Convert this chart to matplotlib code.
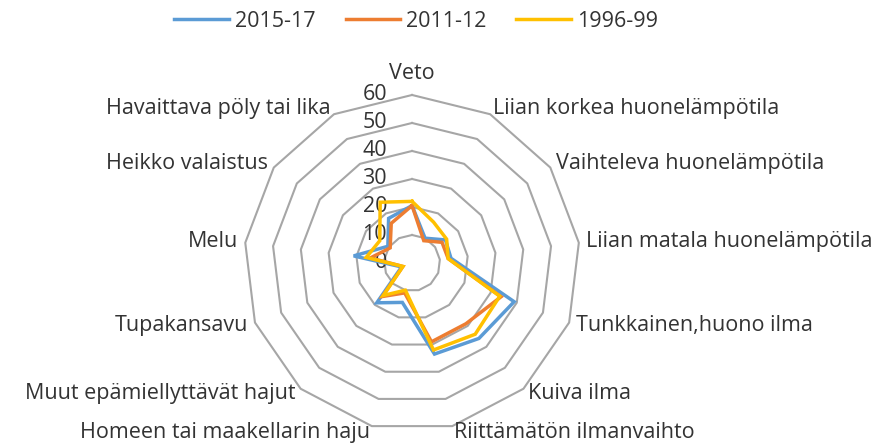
import numpy as np
import matplotlib
matplotlib.use("Agg")
import matplotlib.pyplot as plt

plt.rcParams["font.family"] = ["Open Sans", "DejaVu Sans"]

# categories clockwise from the top
categories = [
    "Veto",
    "Liian korkea huonelämpötila",
    "Vaihteleva huonelämpötila",
    "Liian matala huonelämpötila",
    "Tunkkainen,huono ilma",
    "Kuiva ilma",
    "Riittämätön ilmanvaihto",
    "Homeen tai maakellarin haju",
    "Muut epämiellyttävät hajut",
    "Tupakansavu",
    "Melu",
    "Heikko valaistus",
    "Havaittava pöly tai lika",
]
s2015_17 = [20.5, 10, 14.5, 14, 39, 36, 33.5, 14.5, 19, 4, 21, 10.5, 18]
s2011_12 = [20.5, 9, 13, 13, 34, 29, 29, 11, 16, 3.5, 15, 9.5, 16]
s1996_99 = [22, 16.5, 15, 13, 33.5, 34, 32, 10, 15.5, 3.5, 16.5, 14, 24.5]
series_names = ["2015-17", "2011-12", "1996-99"]
radial_ticks = [0, 10, 20, 30, 40, 50, 60]

colors = ["#5B9BD5", "#ED7D31", "#FFC000"]
grid_color = "#A6A6A6"
text_color = "#333333"
fs = 15.5

n = len(categories)
theta = np.arange(n) * 2 * np.pi / n
theta_closed = np.append(theta, theta[0])

fig = plt.figure(figsize=(8.89, 4.43), dpi=100)
ax = fig.add_axes([0.2745, 0.0271, 0.378, 0.7585], projection="polar")
ax.set_theta_zero_location("N")
ax.set_theta_direction(-1)
ax.set_ylim(0, 60)
ax.grid(False)
ax.spines["polar"].set_visible(False)
ax.set_xticks([])
ax.set_yticks([])
ax.patch.set_visible(False)

# polygon grid
for r in radial_ticks[1:]:
    ax.plot(theta_closed, [r] * (n + 1), color=grid_color, lw=1.5, zorder=1,
            clip_on=False)

# data series
for vals, name, c in zip([s2015_17, s2011_12, s1996_99], series_names, colors):
    ax.plot(theta_closed, vals + vals[:1], color=c, lw=2.5, label=name,
            solid_joinstyle="miter", zorder=3)

# radial axis labels
for r in radial_ticks:
    ax.annotate(str(r), xy=(0, r), xytext=(-18, 0), textcoords="offset points",
                ha="right", va="center", fontsize=fs, color=text_color, zorder=2)

# category labels
for t, lab in zip(theta, categories):
    s = np.sin(t)
    if abs(s) < 1e-6:
        ax.text(t, 64.0, lab, ha="center", va="bottom", fontsize=fs,
                color=text_color)
    else:
        ax.text(t, 62.5, lab, ha="left" if s > 0 else "right", va="center",
                fontsize=fs, color=text_color)

fig.legend(loc="upper center", bbox_to_anchor=(0.468, 1.02), ncol=3,
           frameon=False, fontsize=fs, handlelength=2.55, columnspacing=1.4,
           handletextpad=0.25, labelcolor=text_color)

fig.savefig("out.png", dpi=100)
